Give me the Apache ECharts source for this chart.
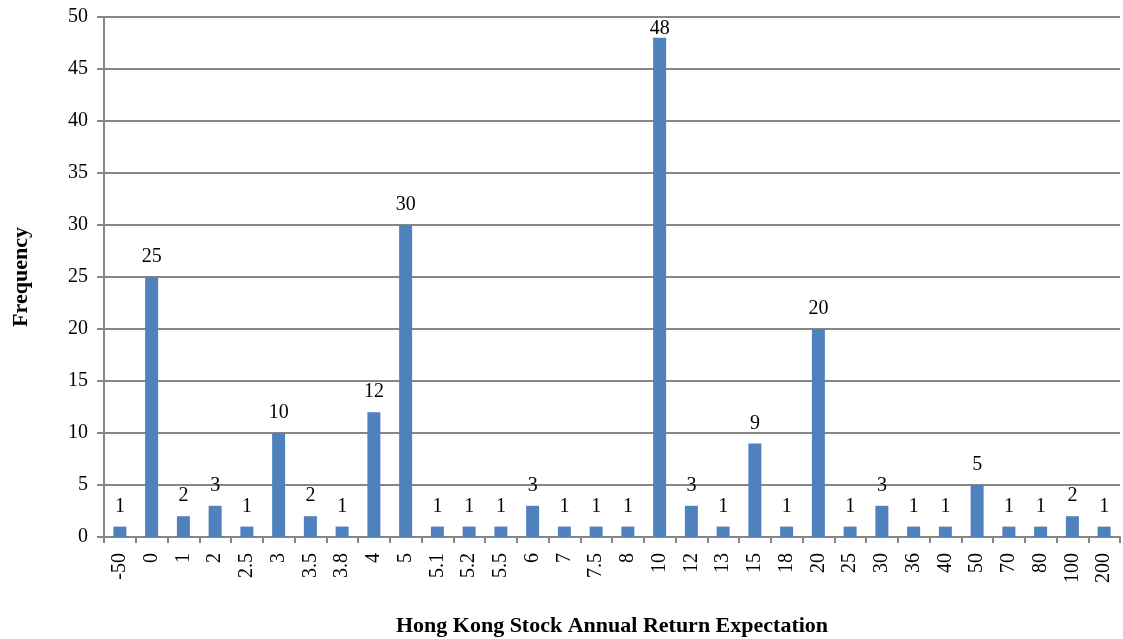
<!DOCTYPE html>
<html>
<head>
<meta charset="utf-8">
<script src="https://cdn.jsdelivr.net/npm/echarts@6/dist/echarts.min.js"></script>
<style>
html,body{margin:0;padding:0;background:#fff;}
#chart{width:1123px;height:639px;}
</style>
</head>
<body>
<div id="chart"></div>
<script>
const categories = ['-50','0','1','2','2.5','3','3.5','3.8','4','5','5.1','5.2','5.5','6','7','7.5','8','10','12','13','15','18','20','25','30','36','40','50','70','80','100','200'];
const frequency = [1,25,2,3,1,10,2,1,12,30,1,1,1,3,1,1,1,48,3,1,9,1,20,1,3,1,1,5,1,1,2,1];
const yTicks = {min:0, max:50, interval:5};

const FONT = '"Liberation Serif","Times New Roman",serif';
const GRID_TOP = 17;
const chart = echarts.init(document.getElementById('chart'));
chart.setOption({
  animation:false,
  backgroundColor:'#ffffff',
  grid:{left:104, right:3, top:GRID_TOP, bottom:102, containLabel:false, outerBoundsMode:'none'},
  xAxis:{
    type:'category',
    data:categories,
    name:'Hong Kong Stock Annual Return Expectation',
    nameLocation:'middle',
    nameGap:78,
    nameTextStyle:{fontFamily:FONT, fontSize:22, fontWeight:'bold', color:'#000'},
    axisLine:{lineStyle:{color:'#868686', width:2}},
    axisTick:{show:true, length:6, lineStyle:{color:'#868686', width:2}},
    axisLabel:{rotate:90, margin:16, fontFamily:FONT, fontSize:20, color:'#000'}
  },
  yAxis:{
    type:'value',
    min:yTicks.min, max:yTicks.max, interval:yTicks.interval,
    name:'Frequency',
    nameLocation:'middle',
    nameGap:72,
    nameTextStyle:{fontFamily:FONT, fontSize:22, fontWeight:'bold', color:'#000'},
    axisLine:{show:true, lineStyle:{color:'#868686', width:2}},
    axisTick:{show:true, length:7, lineStyle:{color:'#868686', width:2}},
    axisLabel:{margin:16, fontFamily:FONT, fontSize:20, color:'#000'},
    splitLine:{show:true, lineStyle:{color:'#868686', width:2}}
  },
  series:[{
    type:'bar',
    data:frequency,
    barWidth:13,
    itemStyle:{color:'#4F81BD'},
    label:{show:true, position:'top', distance:10, fontFamily:FONT, fontSize:20, color:'#000'},
    labelLayout:function(p){
      if (p.labelRect.y < GRID_TOP) {
        return {
          x: p.labelRect.x + p.labelRect.width / 2,
          y: GRID_TOP + 2 + p.labelRect.height / 2,
          align:'center',
          verticalAlign:'middle'
        };
      }
      return {};
    }
  }]
});
</script>
</body>
</html>
